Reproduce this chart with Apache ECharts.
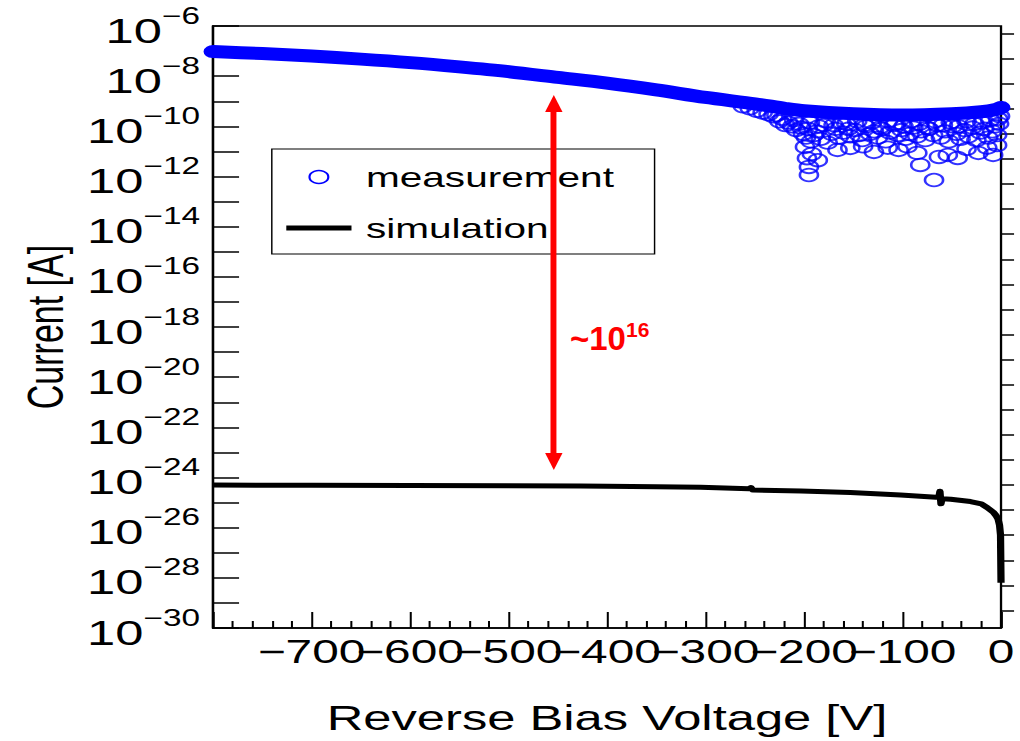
<!DOCTYPE html>
<html>
<head>
<meta charset="utf-8">
<script src="https://cdn.jsdelivr.net/npm/echarts@6/dist/echarts.min.js"></script>
<style>
html,body{margin:0;padding:0;background:#fff;overflow:hidden;width:1020px;height:741px}
#wrap{width:1020px;height:741px;overflow:hidden;position:relative}
#chart{width:704px;height:741px;position:absolute;left:0;top:0;transform-origin:0 0}
</style>
</head>
<body>
<div id="wrap"><div id="chart"></div></div>
<script>
// ---------------- data (current values stored as log10 of current in A) ----------------
const xTickValues = [-800, -700, -600, -500, -400, -300, -200, -100, 0];
const yLabelExponents = [-30, -28, -26, -24, -22, -20, -18, -16, -14, -12, -10, -8, -6];
const yDecadeTicks = [-30,-29,-28,-27,-26,-25,-24,-23,-22,-21,-20,-19,-18,-17,-16,-15,-14,-13,-12,-11,-10,-9,-8,-7,-6];
const yHalfDecadeTicks = [-29.301,-28.301,-27.301,-26.301,-25.301,-24.301,-23.301,-22.301,-21.301,-20.301,-19.301,-18.301,-17.301,-16.301,-15.301,-14.301,-13.301,-12.301,-11.301,-10.301,-9.301,-8.301,-7.301,-6.301];

// measurement: dense trend of the overlapping circles
const measBandVolt = [-800, -750, -700, -650, -600, -550, -500, -450, -400, -350, -300, -250, -220, -200, -150, -100, -50, -20, -5, 0];
const measBandLog  = [-7.02, -7.10, -7.20, -7.32, -7.46, -7.63, -7.82, -8.05, -8.28, -8.55, -8.85, -9.10, -9.28, -9.38, -9.50, -9.55, -9.50, -9.42, -9.33, -9.25];

// measurement: individual circles in the noisy low-voltage part (V, log10 I)
const measScatterVolt = [
  -262,-255,-248,-242,-236,-231,
  -228,-222,-216,-212,-208,-205,-201,-198,-196,-193,-190,-187,-183,-180,-176,-172,-168,-165,-160,-157,-153,-148,-144,-141,-137,-133,-129,-125,-121,-117,-113,-109,-105,-101,-97,-93,-89,-85,-81,-77,-73,-69,-65,-61,-57,-53,-49,-45,-41,-37,-33,-29,-25,-21,-17,-13,-9,-6,-4,-2,-1,
  -225,-219,-210,-203,-194,-185,-178,-170,-162,-155,-146,-139,-131,-123,-115,-107,-99,-91,-83,-75,-67,-59,-51,-43,-35,-27,-19,-11,-3,
  -199,-197,-195,-195,-186,-192,-166,-153,-129,-104,-85,-82,-68,-63,-54,-44,-23,-8,-4,-140,-115,-95,-35,-14];
const measScatterLog = [
  -9.2,-9.28,-9.38,-9.45,-9.52,-9.6,
  -9.55,-9.7,-9.85,-10.0,-10.15,-9.9,-10.3,-10.45,-10.1,-10.6,-10.35,-10.2,-10.5,-9.95,-10.65,-10.3,-10.1,-10.45,-10.25,-9.9,-10.4,-10.15,-10.35,-10.55,-10.0,-10.3,-10.2,-10.45,-10.1,-10.6,-10.25,-9.95,-10.35,-10.15,-10.5,-10.3,-10.05,-10.4,-10.2,-10.55,-10.1,-10.35,-9.95,-10.45,-10.2,-10.6,-10.0,-10.3,-10.5,-10.15,-10.4,-10.05,-10.55,-10.25,-10.1,-10.45,-10.2,-10.0,-10.35,-9.9,-9.6,
  -9.8,-9.95,-9.75,-10.05,-9.85,-10.0,-9.8,-9.95,-9.85,-10.1,-9.8,-9.95,-9.85,-10.05,-9.8,-9.9,-10.0,-9.8,-9.9,-10.05,-9.8,-9.95,-9.85,-10.0,-9.8,-9.9,-9.85,-9.75,-9.7,
  -10.82,-11.27,-11.62,-11.94,-11.35,-11.1,-10.94,-10.86,-11.02,-10.94,-11.06,-11.54,-12.14,-11.22,-11.14,-11.26,-11.06,-11.14,-10.75,-10.8,-10.85,-10.8,-10.9,-10.85];

// simulation
const simVolt = [-800, -700, -600, -500, -427, -400, -350, -305, -256, -254, -252, -203, -153, -102, -66, -63, -62, -61, -60, -51, -31, -20, -14, -8, -5, -3, -1.5, -0.5, 0];
const simLog  = [-24.30, -24.31, -24.32, -24.33, -24.34, -24.35, -24.37, -24.39, -24.45, -24.40, -24.50, -24.54, -24.60, -24.70, -24.79, -24.76, -24.55, -25.05, -24.85, -24.87, -24.96, -25.05, -25.20, -25.38, -25.52, -25.66, -25.90, -26.30, -28.20];

// annotation arrow (V, log10 I of the two arrow ends; heads are centred on them)
const arrowVolt = -454;
const arrowTopLog = -9.09;
const arrowBottomLog = -23.36;
const ratioText = {base: '~10', exp: '16'};

// ---------------- chart ----------------
const W = 704;
const S = 1020 / W;   // horizontal stretch of the original picture
document.getElementById('chart').style.transform = 'scaleX(' + S + ')';

const FONT = "'Liberation Sans', Arial, Helvetica, sans-serif";
const zip = (a, b) => a.map((v, i) => [v, b[i]]);
const minus = '\u2212';

const gridBox = {left: 147, right: 13.1, top: 26, bottom: 113};

const chart = echarts.init(document.getElementById('chart'), null, {renderer: 'svg', width: W, height: 741});

chart.setOption({
  animation: false,
  backgroundColor: '#fff',
  textStyle: {fontFamily: FONT},
  grid: [
    Object.assign({show: true, borderColor: '#000', borderWidth: 1.6, backgroundColor: 'transparent'}, gridBox),
    Object.assign({show: false}, gridBox)
  ],
  legend: {
    orient: 'vertical', left: 187.6, top: 149,
    padding: [14, 28, 12, 10], itemGap: 23, itemWidth: 45, itemHeight: 13,
    backgroundColor: '#fff', borderColor: '#000', borderWidth: 1,
    selectedMode: false,
    textStyle: {fontFamily: FONT, fontSize: 28, color: '#000', lineHeight: 28, padding: [0, 0, 0, 5]},
    data: [
      {name: 'measurement', icon: 'circle', itemStyle: {color: 'transparent', borderColor: '#0000ff', borderWidth: 1.5}},
      {name: 'simulation', icon: 'path://M0,0L45,0L45,5L0,5Z', itemStyle: {color: '#000', borderWidth: 0}}
    ]
  },
  xAxis: [{
    gridIndex: 0, type: 'value', min: xTickValues[0], max: xTickValues[xTickValues.length - 1], interval: 100,
    name: 'Reverse Bias Voltage [V]', nameLocation: 'middle', nameGap: 72,
    nameTextStyle: {fontFamily: FONT, fontSize: 35, color: '#000'},
    axisLine: {onZero: false, lineStyle: {color: '#000', width: 1.6}},
    axisTick: {inside: true, length: 16, lineStyle: {color: '#000', width: 1.4}},
    minorTick: {show: true, splitNumber: 5, length: 7, lineStyle: {color: '#000', width: 1.4}},
    splitLine: {show: false},
    axisLabel: {
      fontFamily: FONT, fontSize: 33, color: '#000', margin: 7,
      formatter: v => (v === xTickValues[0] ? '' : (v < 0 ? minus + (-v) : String(v)))
    }
  }, {
    gridIndex: 1, type: 'value', min: -800, max: 0, show: false
  }],
  yAxis: [{
    gridIndex: 0, type: 'value', min: -30, max: -6, interval: 2,
    name: 'Current [A]', nameLocation: 'middle', nameGap: 97,
    nameTextStyle: {fontFamily: FONT, fontSize: 34, color: '#000'},
    axisLine: {onZero: false, lineStyle: {color: '#000', width: 1.6}},
    axisTick: {inside: true, length: 18, customValues: yDecadeTicks, lineStyle: {color: '#000', width: 1.5}},
    splitLine: {show: false},
    axisLabel: {
      customValues: yLabelExponents,
      margin: 9,
      formatter: v => '{b|10}{s|' + minus + (-v) + '}',
      rich: {
        b: {fontFamily: FONT, fontSize: 35, color: '#000', lineHeight: 44, verticalAlign: 'bottom', padding: [6, 0, 0, 0]},
        s: {fontFamily: FONT, fontSize: 23, color: '#000', lineHeight: 24, verticalAlign: 'top'}
      }
    }
  }, {
    gridIndex: 1, type: 'value', min: -30, max: -6,
    axisLine: {show: false}, axisLabel: {show: false}, splitLine: {show: false},
    axisTick: {show: true, inside: true, length: 9, customValues: yHalfDecadeTicks, lineStyle: {color: '#000', width: 1.5}}
  }],
  series: [{
    name: 'measurement', type: 'line', xAxisIndex: 0, yAxisIndex: 0,
    data: zip(measBandVolt, measBandLog), symbol: 'none', smooth: 0.3, silent: true, z: 3,
    itemStyle: {color: '#0000ff'},
    lineStyle: {color: '#0000ff', width: 13, cap: 'round', join: 'round'}
  }, {
    name: 'measurement', type: 'scatter', xAxisIndex: 0, yAxisIndex: 0,
    data: zip(measScatterVolt, measScatterLog), symbol: 'circle', symbolSize: 12.5, silent: true, z: 3,
    itemStyle: {color: 'transparent', borderColor: '#0000ff', borderWidth: 1.8}
  }, {
    name: 'simulation', type: 'line', xAxisIndex: 0, yAxisIndex: 0,
    data: zip(simVolt, simLog), symbol: 'none', silent: true, z: 4,
    itemStyle: {color: '#000'},
    lineStyle: {color: '#000', width: 5, cap: 'butt', join: 'round'},
    markLine: {
      silent: true, z: 10, animation: false,
      symbol: ['triangle', 'triangle'], symbolSize: [12, 17],
      lineStyle: {color: '#ff0000', width: 4.1, type: 'solid'},
      label: {show: false},
      data: [[{coord: [arrowVolt, arrowTopLog]}, {coord: [arrowVolt, arrowBottomLog]}]]
    }
  }],
  graphic: [{
    type: 'text', x: 570 / S, y: 337, scaleX: 1 / S, z: 20, silent: true,
    style: {
      text: '{a|' + ratioText.base + '}{b|' + ratioText.exp + '}',
      align: 'left', verticalAlign: 'middle',
      rich: {
        a: {fontFamily: FONT, fontSize: 33, fontWeight: 'bold', fill: '#ff0000', lineHeight: 36, verticalAlign: 'bottom'},
        b: {fontFamily: FONT, fontSize: 21, fontWeight: 'bold', fill: '#ff0000', lineHeight: 22, verticalAlign: 'top'}
      }
    }
  }]
});
</script>
</body>
</html>
